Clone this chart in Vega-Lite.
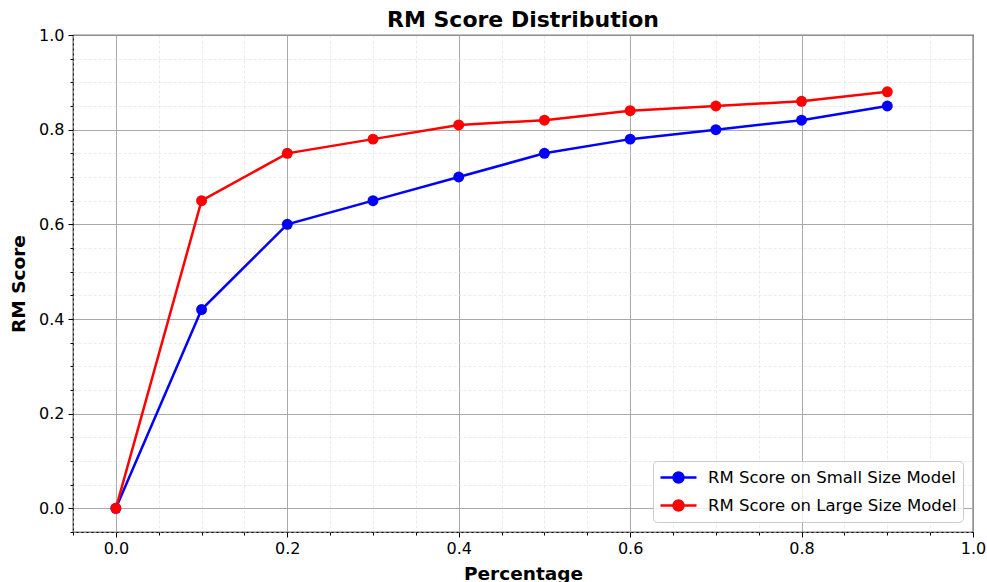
{
  "$schema": "https://vega.github.io/schema/vega-lite/v6.json",
  "width": 900,
  "height": 497,
  "autosize": {"type": "none"},
  "padding": {"left": 73, "top": 35, "right": 14, "bottom": 50},
  "background": "white",
  "title": {"text": "RM Score Distribution", "font": "DejaVu Sans", "fontSize": 22, "fontWeight": "bold", "color": "black", "offset": -5},
  "config": {
    "view": {"stroke": "black", "strokeWidth": 1.2},
    "axis": {
      "labelFont": "DejaVu Sans", "labelFontSize": 16, "labelColor": "black",
      "titleFont": "DejaVu Sans", "titleFontSize": 18.5, "titleFontWeight": "bold", "titleColor": "black",
      "domainColor": "black", "tickColor": "black",
      "labelOverlap": false, "labelBound": false, "labelFlush": false
    },
    "legend": {"labelFont": "DejaVu Sans", "labelFontSize": 16.5, "labelColor": "black", "labelLimit": 0}
  },
  "data": {"values": [
    {"model": "RM Score on Small Size Model", "p": 0.0, "score": 0.0},
    {"model": "RM Score on Small Size Model", "p": 0.1, "score": 0.42},
    {"model": "RM Score on Small Size Model", "p": 0.2, "score": 0.60},
    {"model": "RM Score on Small Size Model", "p": 0.3, "score": 0.65},
    {"model": "RM Score on Small Size Model", "p": 0.4, "score": 0.70},
    {"model": "RM Score on Small Size Model", "p": 0.5, "score": 0.75},
    {"model": "RM Score on Small Size Model", "p": 0.6, "score": 0.78},
    {"model": "RM Score on Small Size Model", "p": 0.7, "score": 0.80},
    {"model": "RM Score on Small Size Model", "p": 0.8, "score": 0.82},
    {"model": "RM Score on Small Size Model", "p": 0.9, "score": 0.85},
    {"model": "RM Score on Large Size Model", "p": 0.0, "score": 0.0},
    {"model": "RM Score on Large Size Model", "p": 0.1, "score": 0.65},
    {"model": "RM Score on Large Size Model", "p": 0.2, "score": 0.75},
    {"model": "RM Score on Large Size Model", "p": 0.3, "score": 0.78},
    {"model": "RM Score on Large Size Model", "p": 0.4, "score": 0.81},
    {"model": "RM Score on Large Size Model", "p": 0.5, "score": 0.82},
    {"model": "RM Score on Large Size Model", "p": 0.6, "score": 0.84},
    {"model": "RM Score on Large Size Model", "p": 0.7, "score": 0.85},
    {"model": "RM Score on Large Size Model", "p": 0.8, "score": 0.86},
    {"model": "RM Score on Large Size Model", "p": 0.9, "score": 0.88}
  ]},
  "encoding": {
    "x": {
      "field": "p", "type": "quantitative", "title": "Percentage",
      "scale": {"domain": [-0.05, 1.0], "nice": false, "zero": false},
      "axis": {
        "values": [-0.05, 0, 0.05, 0.1, 0.15, 0.2, 0.25, 0.3, 0.35, 0.4, 0.45, 0.5, 0.55, 0.6, 0.65, 0.7, 0.75, 0.8, 0.85, 0.9, 0.95, 1.0],
        "labelExpr": "abs(datum.value*5 - round(datum.value*5)) < 0.001 ? format(datum.value, '.1f') : ''",
        "grid": true,
        "gridColor": {"condition": {"test": "abs(datum.value*5 - round(datum.value*5)) < 0.001", "value": "#a0a0a0"}, "value": "#dddddd"},
        "gridDash": {"condition": {"test": "abs(datum.value*5 - round(datum.value*5)) < 0.001", "value": []}, "value": [3, 2]},
        "gridWidth": {"condition": {"test": "abs(datum.value*5 - round(datum.value*5)) < 0.001", "value": 0.9}, "value": 0.6},
        "tickSize": {"condition": {"test": "abs(datum.value*5 - round(datum.value*5)) < 0.001", "value": 5}, "value": 3},
        "labelPadding": 3,
        "titlePadding": 8,
        "domain": false
      }
    },
    "y": {
      "field": "score", "type": "quantitative", "title": "RM Score",
      "scale": {"domain": [-0.05, 1.0], "nice": false, "zero": false},
      "axis": {
        "values": [-0.05, 0, 0.05, 0.1, 0.15, 0.2, 0.25, 0.3, 0.35, 0.4, 0.45, 0.5, 0.55, 0.6, 0.65, 0.7, 0.75, 0.8, 0.85, 0.9, 0.95, 1.0],
        "labelExpr": "abs(datum.value*5 - round(datum.value*5)) < 0.001 ? format(datum.value, '.1f') : ''",
        "grid": true,
        "gridColor": {"condition": {"test": "abs(datum.value*5 - round(datum.value*5)) < 0.001", "value": "#a0a0a0"}, "value": "#dddddd"},
        "gridDash": {"condition": {"test": "abs(datum.value*5 - round(datum.value*5)) < 0.001", "value": []}, "value": [3, 2]},
        "gridWidth": {"condition": {"test": "abs(datum.value*5 - round(datum.value*5)) < 0.001", "value": 0.9}, "value": 0.6},
        "tickSize": {"condition": {"test": "abs(datum.value*5 - round(datum.value*5)) < 0.001", "value": 5}, "value": 3},
        "labelPadding": 4,
        "titlePadding": 10,
        "domain": false
      }
    },
    "color": {
      "field": "model", "type": "nominal",
      "sort": ["RM Score on Small Size Model", "RM Score on Large Size Model"],
      "scale": {"domain": ["RM Score on Small Size Model", "RM Score on Large Size Model"], "range": ["#0000ff", "#ff0000"]},
      "legend": {
        "title": null,
        "orient": "bottom-right",
        "offset": 10,
        "symbolType": "M-2,0L2,0M-0.55,0A0.55,0.55 0 1,1 0.55,0A0.55,0.55 0 1,1 -0.55,0Z",
        "symbolSize": 324,
        "symbolOffset": 9,
        "symbolStrokeWidth": 2.5,
        "symbolFillColor": null,
        "fillColor": "rgba(255,255,255,0.8)",
        "strokeColor": "#cccccc",
        "cornerRadius": 4,
        "padding": 6,
        "rowPadding": 7,
        "labelOffset": 19
      }
    }
  },
  "layer": [
    {"mark": {"type": "line", "strokeWidth": 2.5}},
    {"mark": {"type": "point", "filled": true, "size": 120, "opacity": 1}}
  ]
}
